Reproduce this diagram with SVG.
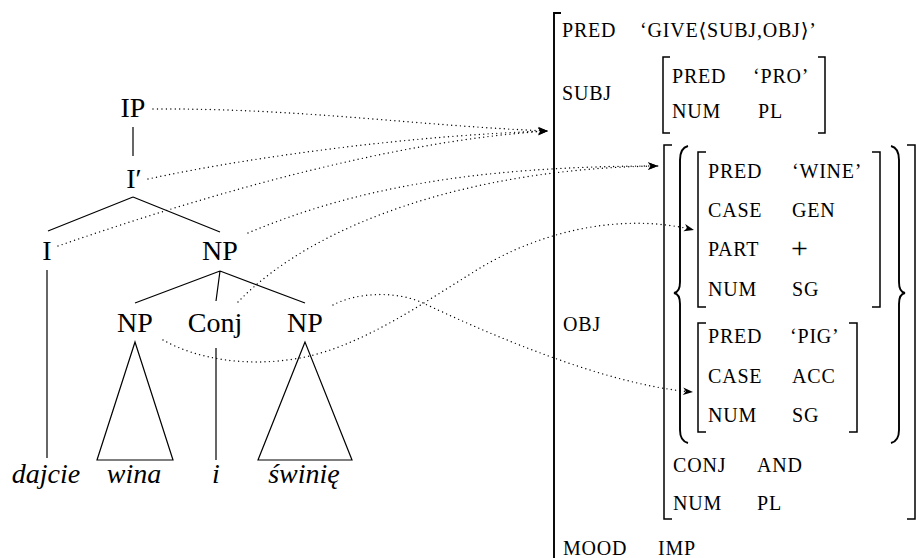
<svg xmlns="http://www.w3.org/2000/svg" width="920" height="558" viewBox="0 0 920 558">
<style>
.t{font-family:'Liberation Serif','Times New Roman',Times,serif;font-size:28px;fill:#000;text-anchor:middle}
.w{font-family:'Liberation Serif','Times New Roman',Times,serif;font-size:28px;font-style:italic;fill:#000;text-anchor:middle}
.a{font-family:'Liberation Serif','Times New Roman',Times,'DejaVu Serif',serif;font-size:20px;letter-spacing:0.8px;fill:#000}
.plus{font-size:30px;letter-spacing:0}
.ln{stroke:#000;stroke-width:1.2;fill:none}
.br{stroke:#000;stroke-width:1.5;fill:none}
.bo{stroke:#000;stroke-width:1.9;fill:none}
.dot{stroke:#000;stroke-width:1.4;stroke-linecap:round;stroke-dasharray:0 4.4;fill:none}
</style>
<defs>
<marker id="arr" viewBox="-11 -5 12 10" markerWidth="12" markerHeight="10" refX="0" refY="0" orient="auto" markerUnits="userSpaceOnUse">
<path d="M0,0 L-10,-3.8 L-7.2,0 L-10,3.8 Z" fill="#000"/>
</marker>
</defs>
<rect width="920" height="558" fill="#fff"/>

<g id="tree-edges">
<path class="ln" d="M133,127 V156"/>
<path class="ln" d="M133,197 L48,231 M133,197 L220,232"/>
<path class="ln" d="M47,270 V458"/>
<path class="ln" d="M220,271 L135,303 M220,271 L216,301 M220,271 L305,303"/>
<path class="ln" d="M135,342 L97,460 L173,460 Z"/>
<path class="ln" d="M216,348 V460"/>
<path class="ln" d="M305,342 L258,460 L352,460 Z"/>
</g>

<g id="node-IP"><text class="t" x="133" y="117">IP</text></g>
<g id="node-Ibar"><text class="t" x="134" y="188">I′</text></g>
<g id="node-I"><text class="t" x="47" y="260">I</text></g>
<g id="node-NP"><text class="t" x="220" y="260">NP</text></g>
<g id="node-NP1"><text class="t" x="135" y="332">NP</text></g>
<g id="node-Conj"><text class="t" x="215" y="332">Conj</text></g>
<g id="node-NP2"><text class="t" x="305" y="332">NP</text></g>
<g id="word-dajcie"><text class="w" x="46" y="483">dajcie</text></g>
<g id="word-wina"><text class="w" x="134" y="483">wina</text></g>
<g id="word-i"><text class="w" x="216" y="483">i</text></g>
<g id="word-swinie"><text class="w" x="304" y="483">świnię</text></g>

<g id="fstructure">
<path class="bo" d="M561,13 H554 V558"/>
<text class="a" x="562" y="37">PRED</text>
<text class="a" x="640" y="37">‘GIVE⟨SUBJ,OBJ⟩’</text>
<text class="a" x="562" y="100">SUBJ</text>
<g id="subj">
<path class="br" d="M670,57 H663 V133 H670 M818,57 H825 V133 H818"/>
<text class="a" x="672" y="83">PRED</text>
<text class="a" x="753" y="83">‘PRO’</text>
<text class="a" x="672" y="118">NUM</text>
<text class="a" x="758" y="118">PL</text>
</g>
<text class="a" x="563" y="331">OBJ</text>
<g id="obj">
<path class="br" d="M672,145 H664 V519 H672 M907,145 H915 V519 H907"/>
<path class="bo" d="M688,146 Q680,148 680,160 L680,282 Q680,292 674,293 Q680,294 680,304 L680,430 Q680,441 688,443"/>
<path class="bo" d="M891,146 Q899,148 899,160 L899,282 Q899,292 905,293 Q899,294 899,304 L899,430 Q899,441 891,443"/>
<g id="wine">
<path class="br" d="M706,152 H698 V307 H706 M872,152 H880 V307 H872"/>
<text class="a" x="708" y="178">PRED</text>
<text class="a" x="792" y="178">‘WINE’</text>
<text class="a" x="708" y="217">CASE</text>
<text class="a" x="792" y="217">GEN</text>
<text class="a" x="708" y="256">PART</text>
<text class="a plus" x="791" y="258">+</text>
<text class="a" x="708" y="296">NUM</text>
<text class="a" x="792" y="296">SG</text>
</g>
<g id="pig">
<path class="br" d="M706,323 H698 V432 H706 M849,323 H857 V432 H849"/>
<text class="a" x="708" y="343">PRED</text>
<text class="a" x="790" y="343">‘PIG’</text>
<text class="a" x="708" y="383">CASE</text>
<text class="a" x="792" y="383">ACC</text>
<text class="a" x="708" y="422">NUM</text>
<text class="a" x="792" y="422">SG</text>
</g>
<text class="a" x="673" y="472">CONJ</text>
<text class="a" x="757" y="472">AND</text>
<text class="a" x="673" y="510">NUM</text>
<text class="a" x="757" y="510">PL</text>
</g>
<text class="a" x="563" y="555">MOOD</text>
<text class="a" x="658" y="555">IMP</text>
</g>

<g id="connectors">
<path class="dot" marker-end="url(#arr)" d="M153,109 C300,108 420,126 548,131"/>
<path class="dot" marker-end="url(#arr)" d="M148,179 C260,155 420,135 548,131"/>
<path class="dot" marker-end="url(#arr)" d="M58,246 C220,190 400,140 548,131"/>
<path class="dot" marker-end="url(#arr)" d="M248,233 C350,190 470,166 658,166"/>
<path class="dot" marker-end="url(#arr)" d="M238,302 C315,222 475,168 658,166"/>
<path class="dot" marker-end="url(#arr)" d="M163,340 C195,358 245,368 300,358 C360,347 420,305 480,268 C540,232 620,212 694,230"/>
<path class="dot" marker-end="url(#arr)" d="M333,305 C355,293 395,290 423,303 C470,325 600,385 693,392"/>
</g>
</svg>
